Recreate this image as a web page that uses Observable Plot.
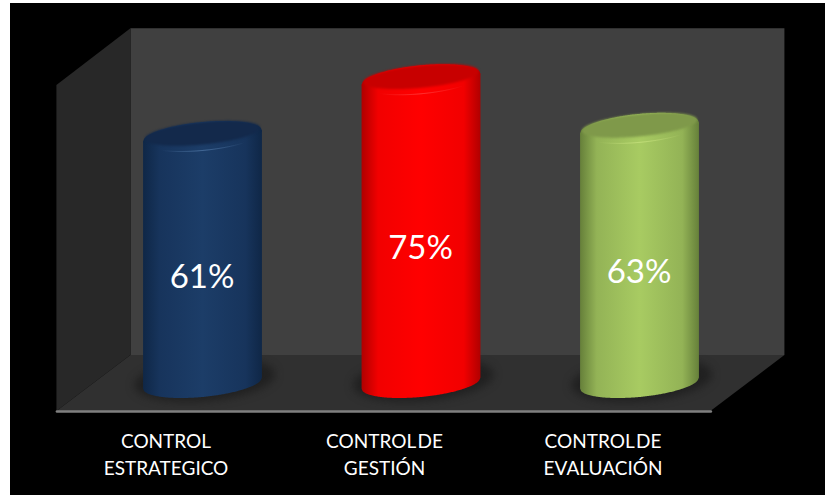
<!DOCTYPE html>
<html lang="es">
<head>
<meta charset="utf-8">
<style>
  html, body { margin: 0; padding: 0; background: #fff; overflow: hidden; }
  #sheet { position: absolute; left: 10px; top: 3px; right: 0; bottom: 0; background: #000; }
  #chart { position: absolute; left: 0; top: 0; }
  #chart svg { display: block; }
  #chart svg text { word-spacing: -3px; }
</style>
<script src="https://cdn.jsdelivr.net/npm/d3@7"></script>
<script src="https://cdn.jsdelivr.net/npm/@observablehq/plot@0.6"></script>
</head>
<body>
<div id="sheet"></div>
<div id="chart"></div>
<script>
// Results per control area, in percent
const categories = ["CONTROL\nESTRATEGICO", "CONTROL DE\nGESTIÓN", "CONTROL DE\nEVALUACIÓN"];
const values = [61, 75, 63];
const valueLabels = ["61%", "75%", "63%"];

// Cylinder palette: edge, mid-shade, highlight, lid, rim glint
const edgeColors = ["#0f2747", "#b00000", "#66803a"];
const shadeColors = ["#17345c", "#f20000", "#93b356"];
const lightColors = ["#1c3d68", "#ff0000", "#a8cb62"];
const lidColors = ["#13294b", "#c80000", "#7f994a"];
const glintColors = ["#4f76a5", "#ff4040", "#c8e27e"];

// Frame of the 3D box, in axis units (x: category index, y: percent)
const boxLeft = -0.6686, boxRight = 2.3245, depthX = 0.3387;
const floorFront = -6.9, floorBack = 6.9, wallTop = 87.6, sideTop = 73.6;

const wall = [{x: boxLeft + depthX, y1: floorBack, y2: wallTop}, {x: boxRight + depthX, y1: floorBack, y2: wallTop}];
const sideWall = [{x: boxLeft, y1: floorFront, y2: sideTop}, {x: boxLeft + depthX, y1: floorBack, y2: wallTop}];
const floor = [
  {x: boxLeft, y1: floorFront, y2: floorFront},
  {x: boxLeft + depthX, y1: floorFront, y2: floorBack},
  {x: boxRight, y1: floorFront, y2: floorBack},
  {x: boxRight + depthX, y1: floorBack, y2: floorBack}
];
const floorEdge = [{x: boxLeft, y: floorFront}, {x: boxRight, y: floorFront}];

// Cylinder geometry in axis units
const radiusX = 0.272, radiusY = 3.45, tilt = 1.36;

// Tilted ellipse around (cx, level) as upper and lower arcs over x
function ellipse(cx, level, rx = radiusX, ry = radiusY, k = tilt, span = 1) {
  return d3.range(-60, 61).map((n) => {
    const u = (n / 60) * span;
    const arc = ry * Math.sqrt(1 - u * u);
    return {x: cx + u * rx, lower: level + k * u - arc, upper: level + k * u + arc, level: level + k * u};
  });
}

// Horizontal shading of a cylinder side, alpha-fading glint along the rim, in <defs>
function gradients() {
  const defs = d3.create("svg:defs");
  values.forEach((_, i) => {
    const side = defs.append("linearGradient").attr("id", `side${i}`);
    [[0, edgeColors[i]], [0.14, shadeColors[i]], [0.5, lightColors[i]], [0.86, shadeColors[i]], [1, edgeColors[i]]]
      .forEach(([o, c]) => side.append("stop").attr("offset", o).attr("stop-color", c));
    const glint = defs.append("linearGradient").attr("id", `glint${i}`);
    [[0, 0], [0.5, 0.9], [1, 0]].forEach(([o, a]) =>
      glint.append("stop").attr("offset", o).attr("stop-color", glintColors[i]).attr("stop-opacity", a));
  });
  return defs.node();
}

const textStyle = {fontFamily: "Lato, sans-serif", fill: "#fff", stroke: "none"};

const marks = [
  gradients,
  Plot.areaY(wall, {x: "x", y1: "y1", y2: "y2", fill: "#404040"}),
  Plot.areaY(sideWall, {x: "x", y1: "y1", y2: "y2", fill: "#282828"}),
  Plot.areaY(floor, {x: "x", y1: "y1", y2: "y2", fill: "#303030"}),
  Plot.line(floorEdge, {x: "x", y: "y", stroke: "#7f7f7f", strokeWidth: 2.5})
];

values.forEach((v, i) => {
  const base = ellipse(i, 0);
  const lid = ellipse(i, v);
  const body = base.map((d, n) => ({x: d.x, y1: d.lower, y2: lid[n].level}));
  marks.push(
    // Contact shadow on the floor
    Plot.areaY(ellipse(i + 0.01, 0.8, radiusX + 0.05, radiusY + 1.8), {
      x: "x", y1: "lower", y2: "upper", fill: "#161616", fillOpacity: 0.6, imageFilter: "blur(4px)"
    }),
    Plot.areaY(body, {x: "x", y1: "y1", y2: "y2", fill: `url(#side${i})`}),
    // Lid: rim first, recessed top over it
    Plot.areaY(lid, {x: "x", y1: "lower", y2: "upper", fill: `url(#side${i})`}),
    Plot.areaY(ellipse(i, v + 0.65, radiusX * 0.97, radiusY * 0.8), {
      x: "x", y1: "lower", y2: "upper", fill: lidColors[i], imageFilter: "blur(1px)"
    }),
    Plot.line(ellipse(i, v, radiusX, radiusY, tilt, 0.7), {
      x: "x", y: "lower", stroke: `url(#glint${i})`, strokeWidth: 1
    })
  );
});

marks.push(
  Plot.text(values, {
    x: (_, i) => i, y: (v) => v / 2, text: (_, i) => valueLabels[i],
    dx: -1, dy: 17, fontSize: 33, ...textStyle
  }),
  Plot.text(categories, {
    x: (_, i) => i, y: floorFront, text: (d) => d,
    dx: -37, dy: 41, lineHeight: 1.42, fontSize: 19, ...textStyle
  })
);

const chart = Plot.plot({
  width: 825,
  height: 495,
  margin: 0,
  style: {background: "transparent", maxWidth: "none"},
  x: {type: "linear", domain: [-1, 3], range: [-16, 858], axis: null},
  y: {type: "linear", domain: [0, 80], range: [383, 59], axis: null},
  marks
});
document.getElementById("chart").append(chart);
</script>
</body>
</html>
